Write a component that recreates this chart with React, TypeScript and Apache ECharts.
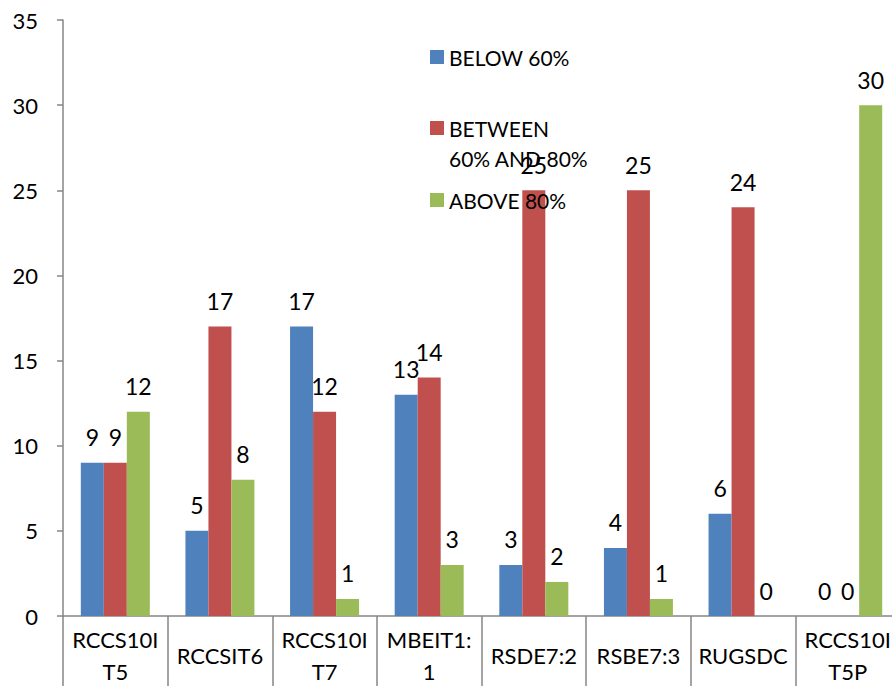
import React, { useEffect, useRef } from "react";
import * as echarts from "echarts";

const categories = ["RCCS10I\nT5", "RCCSIT6", "RCCS10I\nT7", "MBEIT1:\n1", "RSDE7:2", "RSBE7:3", "RUGSDC", "RCCS10I\nT5P"];
const below60 = [9, 5, 17, 13, 3, 4, 6, 0];
const between60and80 = [9, 17, 12, 14, 25, 25, 24, 0];
const above80 = [12, 8, 1, 3, 2, 1, 0, 30];
const seriesNames = ["BELOW 60%", "BETWEEN 60% AND 80%", "ABOVE 80%"];
const colors = ["#4F81BD", "#C0504D", "#9BBB59"];

const FONT = "Lato, 'Open Sans', sans-serif";

export default function App() {
  const ref = useRef<HTMLDivElement>(null);
  useEffect(() => {
    if (!ref.current) return;
    const chart = echarts.init(ref.current, undefined, { renderer: "svg" });
    const label = {
      show: true,
      position: "top" as const,
      distance: 14,
      color: "#000",
      fontSize: 23,
      fontFamily: FONT,
    };
    const mk = (i: number, data: number[]) => ({
      name: seriesNames[i],
      type: "bar" as const,
      data,
      barWidth: 23,
      barGap: "0%",
      itemStyle: { color: colors[i] },
      label,
    });
    const legendText = { fontSize: 21, lineHeight: 30, color: "#000", fontFamily: FONT };
    const legendBase = {
      orient: "vertical" as const,
      left: 430,
      padding: 0,
      itemWidth: 14,
      itemHeight: 14,
      icon: "rect",
      selectedMode: false,
      textStyle: legendText,
    };
    chart.setOption({
      animation: false,
      textStyle: { fontFamily: FONT },
      grid: { left: 63, top: 20, width: 837, height: 600 },
      legend: [
        { ...legendBase, top: 42, data: [seriesNames[0]] },
        {
          ...legendBase,
          top: 83,
          data: [seriesNames[1]],
          formatter: () => " \nBETWEEN\n60% AND 80%",
        },
        { ...legendBase, top: 185, data: [seriesNames[2]] },
      ],
      xAxis: {
        type: "category",
        data: categories,
        axisLine: { show: true, lineStyle: { color: "#868686", width: 1.5 } },
        axisTick: { show: true, length: 70, alignWithLabel: false, lineStyle: { color: "#868686", width: 1.5 } },
        axisLabel: {
          color: "#000",
          fontSize: 22,
          lineHeight: 32,
          fontFamily: FONT,
          margin: 39,
          verticalAlign: "middle",
          interval: 0,
        },
      },
      yAxis: {
        type: "value",
        min: 0,
        max: 35,
        interval: 5,
        splitLine: { show: false },
        axisLine: { show: true, lineStyle: { color: "#868686", width: 1.5 } },
        axisTick: { show: true, length: 6, lineStyle: { color: "#868686", width: 1.5 } },
        axisLabel: { color: "#000", fontSize: 22, fontFamily: FONT, margin: 25 },
      },
      series: [mk(0, below60), mk(1, between60and80), mk(2, above80)],
    });
    return () => chart.dispose();
  }, []);
  return (
    <div
      style={{ position: "fixed", left: 0, top: 0, width: 892, height: 687, overflow: "hidden", background: "#fff" }}
    >
      <div ref={ref} style={{ width: 910, height: 687 }} />
    </div>
  );
}
